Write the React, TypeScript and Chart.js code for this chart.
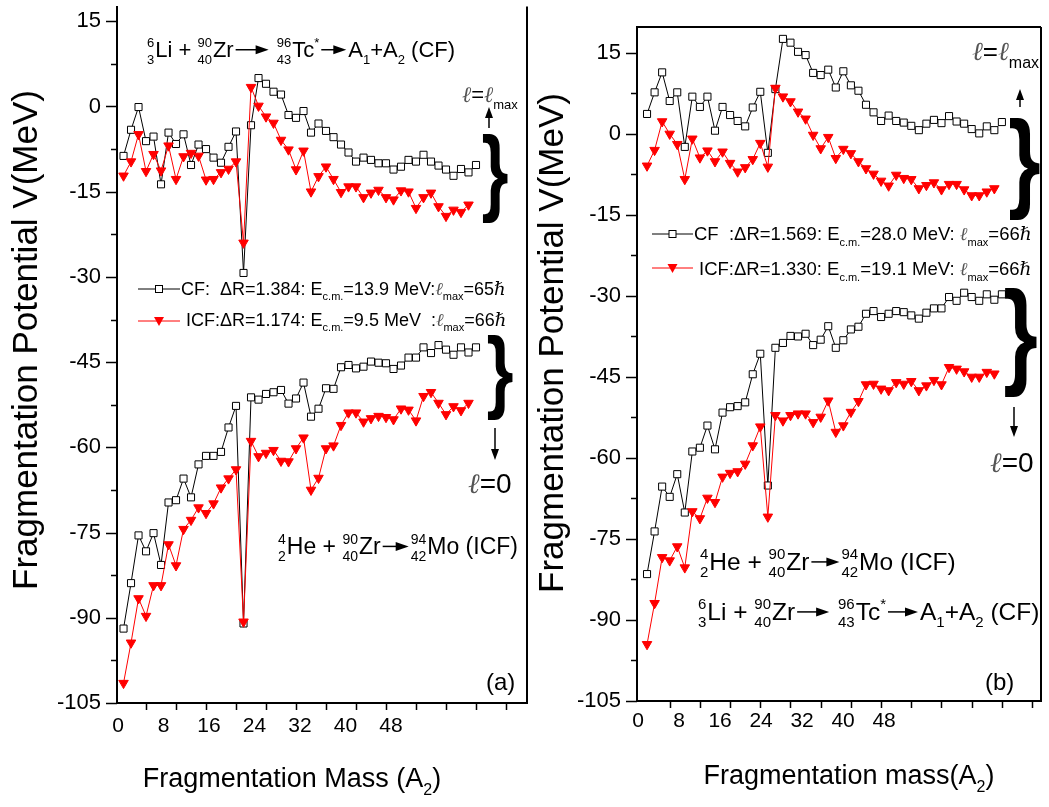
import React, { useEffect, useRef } from "react";
import { Chart, registerables } from "chart.js";
Chart.register(...registerables);

const FONT = '"Liberation Sans", "DejaVu Sans", Arial, sans-serif';
const ELL_FONT = '"DejaVu Serif", serif';

// ---- categories (fragment mass A2) ----
const massCF = [1,2,3,4,5,6,7,8,9,10,11,12,13,14,15,16,17,18,19,20,21,22,23,24,25,26,27,28,29,30,31,32,33,34,35,36,37,38,39,40,41,42,43,44,45,46,47,48];
const massICF = [1,2,3,4,5,6,7,8,9,10,11,12,13,14,15,16,17,18,19,20,21,22,23,24,25,26,27,28,29,30,31,32,33,34,35,36,37,38,39,40,41,42,43,44,45,46,47];

// ---- panel (a) ----
const aCFmax = [-8.7,-4.1,-0.1,-6.1,-5.3,-13.7,-4.6,-6.6,-4.9,-10.3,-6.7,-7.5,-9.0,-9.9,-7.1,-4.4,-29.3,-3.3,5.0,4.0,2.6,2.1,-1.5,-2.0,-0.8,-4.6,-3.0,-4.3,-5.4,-6.7,-8.1,-9.7,-9.0,-9.4,-10.0,-10.0,-11.1,-10.6,-9.4,-9.7,-8.5,-9.7,-10.4,-11.1,-12.2,-11.0,-11.6,-10.3];
const aICFmax = [-12.2,-9.7,-4.9,-11.4,-8.4,-11.3,-6.9,-12.8,-8.8,-8.2,-8.7,-12.9,-12.8,-11.6,-11.0,-9.7,-24.0,3.4,0.1,-1.8,-2.9,-5.9,-7.6,-11.1,-7.8,-15.0,-12.3,-10.6,-12.8,-15.1,-14.1,-14.1,-16.0,-15.2,-14.7,-16.0,-16.4,-14.8,-15.0,-17.9,-16.0,-15.2,-17.6,-19.3,-18.2,-18.6,-17.3];
const aCF0 = [-91.9,-83.9,-75.5,-78.3,-75.1,-80.7,-69.7,-69.3,-65.5,-68.8,-63.0,-61.5,-61.5,-60.8,-56.5,-52.7,-91.0,-51.2,-51.6,-50.6,-50.3,-49.9,-52.3,-51.4,-48.6,-54.6,-53.2,-49.6,-49.7,-45.9,-45.5,-46.1,-45.8,-44.9,-45.1,-45.2,-46.2,-45.6,-44.2,-44.2,-42.4,-43.4,-42.0,-42.8,-43.7,-42.4,-43.3,-42.4];
const aICF0 = [-101.5,-94.4,-86.6,-89.7,-84.3,-84.3,-77.1,-80.8,-74.4,-72.8,-70.6,-71.6,-69.9,-67.1,-65.5,-63.9,-90.7,-58.9,-61.6,-61.0,-60.5,-62.4,-62.5,-60.2,-58.3,-67.5,-65.4,-60.2,-59.7,-56.1,-53.9,-53.9,-55.5,-54.9,-54.5,-54.7,-55.1,-53.2,-53.4,-55.3,-51.0,-50.3,-52.2,-54.2,-52.8,-53.5,-52.2];

// ---- panel (b) ----
const bCFmax = [3.7,7.7,11.4,6.1,7.7,-2.4,6.9,5.0,6.9,0.6,5.0,3.5,2.4,1.4,4.9,7.8,-3.5,8.3,17.6,16.9,15.2,14.6,11.3,10.9,11.9,8.6,11.6,9.0,8.0,5.4,4.0,2.4,3.4,2.4,2.1,1.5,0.7,1.9,2.6,2.0,3.3,2.3,1.9,0.9,0.1,1.4,0.7,2.2];
const bICFmax = [-5.9,-3.0,2.3,0.0,-1.9,-8.4,-0.9,-4.4,-3.1,-5.1,-3.3,-5.4,-7.0,-6.2,-4.7,-1.7,-6.1,8.5,6.9,6.0,4.1,2.8,-0.2,-2.7,-0.6,-4.5,-2.8,-3.6,-5.1,-6.4,-7.4,-8.7,-9.6,-7.6,-8.2,-8.4,-10.1,-9.5,-9.0,-10.3,-9.3,-9.3,-10.3,-11.4,-11.4,-10.7,-10.1];
const bCF0 = [-81.5,-73.6,-65.3,-67.2,-63.0,-70.1,-58.8,-58.1,-54.0,-58.4,-51.6,-50.6,-50.4,-49.7,-44.5,-40.7,-65.1,-39.6,-38.7,-37.4,-37.5,-37.0,-39.1,-38.1,-35.6,-39.6,-38.2,-36.2,-35.7,-33.3,-32.8,-33.9,-33.3,-32.8,-33.0,-33.6,-34.2,-33.1,-32.3,-32.3,-30.2,-30.9,-29.4,-30.2,-30.9,-29.7,-30.7,-29.7];
const bICF0 = [-94.5,-86.9,-78.4,-79.0,-76.4,-80.3,-69.9,-71.2,-67.4,-68.2,-63.5,-62.8,-62.5,-61.1,-57.7,-54.2,-70.9,-52.1,-53.1,-52.1,-51.8,-51.8,-53.4,-52.4,-49.4,-55.2,-54.0,-51.5,-49.5,-46.4,-46.3,-47.2,-47.5,-46.0,-46.3,-45.8,-47.5,-46.6,-45.6,-46.4,-43.2,-43.5,-44.0,-45.0,-45.0,-44.1,-44.4];

// ---- tick values ----
const yTickMarks = [-105,-97.5,-90,-82.5,-75,-67.5,-60,-52.5,-45,-37.5,-30,-22.5,-15,-7.5,0,7.5,15];
const yTickLabels = [-105,-90,-75,-60,-45,-30,-15,0,15];
const xTickLabels = [0,8,16,24,32,40,48];
const xTickMarks = [4,8,12,16,20,24,28,32,36,40,44,48,52];

const Y_TITLE = "Fragmentation Potential V(MeV)";

type Part = string | { pre: [string, string] } | { sup: string } | { sub: string } | { arrow: number } | { ell: true } | { hbar: true };

function drawRich(ctx: CanvasRenderingContext2D, x: number, y: number, parts: Part[], size: number, measureOnly = false): number {
  const small = Math.round(size * 0.6);
  let cx = x;
  ctx.save();
  ctx.textAlign = "left";
  ctx.textBaseline = "alphabetic";
  ctx.fillStyle = "#000";
  ctx.strokeStyle = "#000";
  for (const p of parts) {
    if (typeof p === "string") {
      ctx.font = `${size}px ${FONT}`;
      if (!measureOnly) ctx.fillText(p, cx, y);
      cx += ctx.measureText(p).width;
    } else if ("pre" in p) {
      ctx.font = `${small}px ${FONT}`;
      const w1 = ctx.measureText(p.pre[0]).width;
      const w2 = ctx.measureText(p.pre[1]).width;
      const w = Math.max(w1, w2);
      if (!measureOnly) {
        ctx.fillText(p.pre[0], cx + w - w1, y - size * 0.45);
        ctx.fillText(p.pre[1], cx + w - w2, y + size * 0.3);
      }
      cx += w + 1;
    } else if ("sup" in p) {
      ctx.font = `${small}px ${FONT}`;
      if (!measureOnly) ctx.fillText(p.sup, cx, y - size * 0.45);
      cx += ctx.measureText(p.sup).width;
    } else if ("sub" in p) {
      ctx.font = `${small}px ${FONT}`;
      if (!measureOnly) ctx.fillText(p.sub, cx, y + size * 0.3);
      cx += ctx.measureText(p.sub).width;
    } else if ("arrow" in p) {
      if (!measureOnly) {
        const ay = y - size * 0.33;
        const x1 = cx + 2, x2 = cx + p.arrow - 2;
        ctx.lineWidth = 1.5;
        ctx.beginPath(); ctx.moveTo(x1, ay); ctx.lineTo(x2 - 8, ay); ctx.stroke();
        ctx.beginPath(); ctx.moveTo(x2, ay); ctx.lineTo(x2 - 13, ay - 4.5); ctx.lineTo(x2 - 13, ay + 4.5); ctx.closePath(); ctx.fill();
      }
      cx += p.arrow;
    } else if ("ell" in p) {
      ctx.font = `italic ${size}px ${ELL_FONT}`;
      if (!measureOnly) { ctx.fillStyle = "#555"; ctx.fillText("\u2113", cx, y); ctx.fillStyle = "#000"; }
      cx += ctx.measureText("\u2113").width;
    } else if ("hbar" in p) {
      ctx.font = `italic ${size}px ${ELL_FONT}`;
      if (!measureOnly) ctx.fillText("\u210F", cx, y);
      cx += ctx.measureText("\u210F").width;
    }
  }
  ctx.restore();
  return cx - x;
}

function drawBrace(ctx: CanvasRenderingContext2D, x1: number, x2: number, y1: number, y2: number) {
  ctx.save();
  const base = 100;
  ctx.font = `bold ${base}px ${FONT}`;
  const m = ctx.measureText("}");
  const h = m.actualBoundingBoxAscent + m.actualBoundingBoxDescent;
  const w = m.actualBoundingBoxRight + m.actualBoundingBoxLeft;
  ctx.translate(x1, y1);
  ctx.scale((x2 - x1) / w, (y2 - y1) / h);
  ctx.fillStyle = "#000";
  ctx.textBaseline = "alphabetic";
  ctx.textAlign = "left";
  ctx.fillText("}", m.actualBoundingBoxLeft, m.actualBoundingBoxAscent);
  ctx.restore();
}

function vArrow(ctx: CanvasRenderingContext2D, x: number, y1: number, y2: number) {
  const dir = y2 > y1 ? 1 : -1;
  ctx.save();
  ctx.strokeStyle = "#000"; ctx.fillStyle = "#000"; ctx.lineWidth = 1.5;
  ctx.beginPath(); ctx.moveTo(x, y1); ctx.lineTo(x, y2 - dir * 8); ctx.stroke();
  ctx.beginPath(); ctx.moveTo(x, y2); ctx.lineTo(x - 4, y2 - dir * 11); ctx.lineTo(x + 4, y2 - dir * 11); ctx.closePath(); ctx.fill();
  ctx.restore();
}

function legendRow(ctx: CanvasRenderingContext2D, x1: number, x2: number, y: number, kind: "cf" | "icf") {
  ctx.save();
  const col = kind === "cf" ? "#000" : "#ff0000";
  ctx.strokeStyle = col; ctx.lineWidth = 1;
  ctx.beginPath(); ctx.moveTo(x1, y); ctx.lineTo(x2, y); ctx.stroke();
  const mx = (x1 + x2) / 2;
  if (kind === "cf") {
    ctx.fillStyle = "#fff";
    ctx.fillRect(mx - 3.5, y - 3.5, 7, 7);
    ctx.strokeRect(mx - 3.5, y - 3.5, 7, 7);
  } else {
    ctx.fillStyle = col;
    ctx.beginPath(); ctx.moveTo(mx - 5, y - 4); ctx.lineTo(mx + 5, y - 4); ctx.lineTo(mx, y + 5); ctx.closePath(); ctx.fill();
  }
  ctx.restore();
}

function yTitle(ctx: CanvasRenderingContext2D, cx: number, cy: number) {
  ctx.save();
  ctx.translate(cx, cy);
  ctx.rotate(-Math.PI / 2);
  ctx.font = `35px ${FONT}`;
  ctx.fillStyle = "#000";
  ctx.textAlign = "center";
  ctx.textBaseline = "middle";
  ctx.fillText(Y_TITLE, 0, 0);
  ctx.restore();
}

type PanelSpec = {
  id: string;
  left: number; width: number;
  area: { left: number; right: number; top: number; bottom: number };
  yMax: number;
  xData: [number, number];
  xLab: [number, number];
  cfMax: number[]; icfMax: number[]; cf0: number[]; icf0: number[];
  xLabelPad: number;
  topBorder: boolean;
  annotate: (ctx: CanvasRenderingContext2D) => void;
};

const liReaction = (a1: number, a2: number): Part[] => [{ pre: ["6", "3"] }, "Li + ", { pre: ["90", "40"] }, "Zr", { arrow: a1 }, " ", { pre: ["96", "43"] }, "Tc", { sup: "*" }, { arrow: a2 }, "A", { sub: "1" }, "+A", { sub: "2" }, " (CF)"];
const heReaction = (a: number): Part[] => [{ pre: ["4", "2"] }, "He + ", { pre: ["90", "40"] }, "Zr", { arrow: a }, { pre: ["94", "42"] }, "Mo (ICF)"];

const panelA: PanelSpec = {
  id: "a", left: 0, width: 540,
  area: { left: 117, right: 527, top: 3, bottom: 703 },
  yMax: 17.6, xData: [0.13, 54.8], xLab: [-0.18, 71.9],
  cfMax: aCFmax, icfMax: aICFmax, cf0: aCF0, icf0: aICF0,
  xLabelPad: 11, topBorder: false,
  annotate: (ctx) => {
    yTitle(ctx, 27, 340);
    drawRich(ctx, 147, 57, liReaction(37, 29), 22);
    drawRich(ctx, 462, 102, [{ ell: true }, "=", { ell: true }, { sub: "max" }], 22);
    vArrow(ctx, 489, 128, 107);
    drawBrace(ctx, 483, 508, 135, 223);
    legendRow(ctx, 138, 180, 289, "cf");
    drawRich(ctx, 181, 295, ["CF:  \u0394R=1.384: E", { sub: "c.m." }, "=13.9 MeV:", { ell: true }, { sub: "max" }, "=65", { hbar: true }], 18);
    legendRow(ctx, 138, 180, 321, "icf");
    drawRich(ctx, 186, 326, ["ICF:\u0394R=1.174: E", { sub: "c.m." }, "=9.5 MeV  :", { ell: true }, { sub: "max" }, "=66", { hbar: true }], 18);
    drawBrace(ctx, 488, 513, 335, 420);
    vArrow(ctx, 495, 428, 460);
    drawRich(ctx, 468, 493, [{ ell: true }, "=0"], 28);
    drawRich(ctx, 278, 554, heReaction(30), 23);
    drawRich(ctx, 486, 690, ["(a)"], 24);
    const parts: Part[] = ["Fragmentation Mass (A", { sub: "2" }, ")"];
    const w = drawRich(ctx, 0, 0, parts, 27, true);
    drawRich(ctx, 292 - w / 2, 787, parts, 27);
  },
};

const panelB: PanelSpec = {
  id: "b", left: 530, width: 519,
  area: { left: 637, right: 1041, top: 27, bottom: 701 },
  yMax: 19.8, xData: [-0.33, 53.18], xLab: [-0.2, 78.6],
  cfMax: bCFmax, icfMax: bICFmax, cf0: bCF0, icf0: bICF0,
  xLabelPad: 8, topBorder: true,
  annotate: (ctx) => {
    yTitle(ctx, 553, 343);
    legendRow(ctx, 652, 693, 234, "cf");
    drawRich(ctx, 694, 240, ["CF  :\u0394R=1.569: E", { sub: "c.m." }, "=28.0 MeV: ", { ell: true }, { sub: "max" }, "=66", { hbar: true }], 18.5);
    legendRow(ctx, 652, 693, 268, "icf");
    drawRich(ctx, 699, 275, ["ICF:\u0394R=1.330: E", { sub: "c.m." }, "=19.1 MeV: ", { ell: true }, { sub: "max" }, "=66", { hbar: true }], 18.5);
    drawRich(ctx, 972, 60, [{ ell: true }, "=", { ell: true }, { sub: "max" }], 26);
    vArrow(ctx, 1020, 107, 89);
    drawBrace(ctx, 1010, 1040, 118, 220);
    drawBrace(ctx, 1005, 1037, 288, 398);
    vArrow(ctx, 1014, 407, 437);
    drawRich(ctx, 990, 472, [{ ell: true }, "=0"], 28);
    drawRich(ctx, 700, 570, heReaction(32), 24.5);
    drawRich(ctx, 698, 620, liReaction(36, 34), 24.5);
    drawRich(ctx, 985, 690, ["(b)"], 24);
    const parts: Part[] = ["Fragmentation mass(A", { sub: "2" }, ")"];
    const w = drawRich(ctx, 0, 0, parts, 27, true);
    drawRich(ctx, 849 - w / 2, 784, parts, 27);
  },
};

function buildConfig(p: PanelSpec): any {
  const H = 807;
  const ds = (label: string, vals: number[], mass: number[], kind: "cf" | "icf") => ({
    label,
    data: mass.map((m, i) => ({ x: m, y: vals[i] })),
    xAxisID: "x",
    yAxisID: "y",
    borderColor: kind === "cf" ? "#000" : "#ff0000",
    backgroundColor: kind === "cf" ? "#fff" : "#ff0000",
    pointBackgroundColor: kind === "cf" ? "#fff" : "#ff0000",
    pointBorderColor: kind === "cf" ? "#000" : "#ff0000",
    pointStyle: kind === "cf" ? "rect" : "triangle",
    pointRotation: kind === "cf" ? 0 : 180,
    pointRadius: kind === "cf" ? 5 : 5.5,
    pointBorderWidth: 1,
    borderWidth: 1,
    tension: 0,
    fill: false,
  });
  const decor = {
    id: "decor" + p.id,
    afterDraw(chart: any) {
      const ctx: CanvasRenderingContext2D = chart.ctx;
      const a = chart.chartArea;
      const ys = chart.scales.y;
      const xs = chart.scales.x;
      ctx.save();
      ctx.strokeStyle = "#000";
      ctx.lineWidth = 1.5;
      ctx.beginPath();
      for (const v of yTickMarks) {
        const py = Math.round(ys.getPixelForValue(v)) + 0.5;
        const len = v % 15 === 0 ? 11 : 6;
        ctx.moveTo(a.left - len, py); ctx.lineTo(a.left, py);
      }
      for (const v of xTickMarks) {
        const px = Math.round(xs.getPixelForValue(v)) + 0.5;
        if (px > a.right) continue;
        ctx.moveTo(px, a.bottom); ctx.lineTo(px, a.bottom + 7);
      }
      ctx.stroke();
      ctx.lineWidth = 2;
      ctx.beginPath();
      ctx.moveTo(a.right, a.top); ctx.lineTo(a.right, a.bottom);
      if (p.topBorder) { ctx.moveTo(a.left, a.top); ctx.lineTo(a.right, a.top); }
      ctx.stroke();
      ctx.translate(-p.left, 0);
      p.annotate(ctx);
      ctx.restore();
    },
  };
  return {
    type: "line",
    data: {
      datasets: [
        ds("ICF", p.icfMax, massICF, "icf"),
        ds("ICF l=0", p.icf0, massICF, "icf"),
        ds("CF", p.cfMax, massCF, "cf"),
        ds("CF l=0", p.cf0, massCF, "cf"),
      ],
    },
    options: {
      responsive: false,
      animation: false,
      events: [],
      layout: { padding: { left: 0, top: p.area.top, right: p.left + p.width - p.area.right, bottom: 0 } },
      plugins: { legend: { display: false }, tooltip: { enabled: false }, title: { display: false } },
      scales: {
        x: { type: "linear", display: false, min: p.xData[0], max: p.xData[1] },
        xl: {
          type: "linear", position: "bottom", min: p.xLab[0], max: p.xLab[1],
          afterBuildTicks: (s: any) => { s.ticks = xTickLabels.map((v) => ({ value: v })); },
          afterFit: (s: any) => { s.height = H - p.area.bottom; s.paddingLeft = 0; s.paddingRight = 0; },
          grid: { display: false, drawTicks: false },
          border: { display: true, color: "#000", width: 2 },
          ticks: { font: { size: 21, family: FONT }, color: "#000", padding: p.xLabelPad, maxRotation: 0, autoSkip: false, callback: (v: any) => String(v) },
        },
        y: {
          type: "linear", position: "left", min: -105, max: p.yMax,
          afterBuildTicks: (s: any) => { s.ticks = yTickLabels.map((v) => ({ value: v })); },
          afterFit: (s: any) => { s.width = p.area.left - p.left; s.paddingTop = 0; s.paddingBottom = 0; },
          grid: { display: false, drawTicks: false },
          border: { display: true, color: "#000", width: 2 },
          ticks: { font: { size: 22, family: FONT }, color: "#000", padding: 16, autoSkip: false, callback: (v: any) => String(v) },
          title: { display: false, text: Y_TITLE },
        },
      },
    },
    plugins: [decor],
  };
}

function Panel({ spec }: { spec: PanelSpec }) {
  const ref = useRef<HTMLCanvasElement | null>(null);
  useEffect(() => {
    if (!ref.current) return;
    const chart = new Chart(ref.current, buildConfig(spec));
    return () => chart.destroy();
  }, [spec]);
  return (
    <canvas
      ref={ref}
      width={spec.width}
      height={807}
      style={{ position: "absolute", left: spec.left, top: 0, width: spec.width, height: 807 }}
    />
  );
}

export default function App() {
  Chart.defaults.font.family = FONT;
  Chart.defaults.color = "#000";
  return (
    <div style={{ position: "absolute", left: 0, top: 0, width: 1049, height: 807, background: "#fff", overflow: "hidden" }}>
      <Panel spec={panelA} />
      <Panel spec={panelB} />
    </div>
  );
}
